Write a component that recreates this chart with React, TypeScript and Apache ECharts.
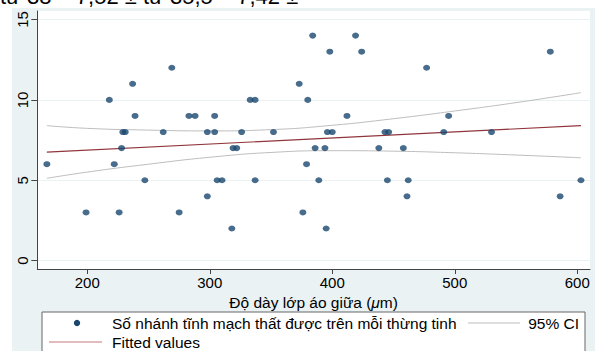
import React, { useEffect, useRef } from "react";
import * as echarts from "echarts";

// Scatter: mid-layer thickness (µm) vs number of veins per cord
const thicknessX = [
  167, 199, 218, 222, 226, 228, 229, 231, 237, 239, 247, 262, 269, 275, 283, 288,
  298, 298, 304, 304, 306, 310, 318, 319, 322, 326, 333, 337, 337, 352, 373, 376,
  379, 380, 384, 386, 389, 394, 395, 396, 398, 400, 412, 419, 424, 438, 443, 446,
  445, 458, 461, 462, 477, 491, 495, 530, 578, 586, 603,
];
const veinsY = [
  6, 3, 10, 6, 3, 7, 8, 8, 11, 9, 5, 8, 12, 3, 9, 9,
  4, 8, 8, 9, 5, 5, 2, 7, 7, 8, 10, 10, 5, 8, 11, 3,
  6, 10, 14, 7, 5, 7, 2, 8, 13, 8, 9, 14, 13, 7, 8, 8,
  5, 7, 4, 5, 12, 8, 9, 8, 13, 4, 5,
];

// Fitted line endpoints
const fitX = [167, 603];
const fitY = [6.75, 8.4];

// 95% CI band
const ciX = [167, 200, 250, 300, 350, 400, 450, 500, 550, 603];
const ciUpper = [8.4, 8.23, 8.12, 8.07, 8.15, 8.42, 8.83, 9.31, 9.83, 10.45];
const ciLower = [5.12, 5.51, 6.0, 6.43, 6.73, 6.84, 6.81, 6.71, 6.57, 6.4];

const xTicks = [200, 300, 400, 500, 600];
const yTicks = [0, 5, 10, 15];

const legendScatter = "Số nhánh tĩnh mạch thất được trên mỗi thừng tinh";
const legendCI = "95% CI";
const legendFit = "Fitted values";
const topText = "từ 38 – 7,52 ± từ 35,5 – 7,42 ±";

const FONT = "'Liberation Sans', Arial, sans-serif";

export default function App() {
  const ref = useRef<HTMLDivElement>(null);

  useEffect(() => {
    if (!ref.current) return;
    const chart = echarts.init(ref.current, undefined, { renderer: "svg" });
    const zip = (a: number[], b: number[]) => a.map((v, i) => [v, b[i]]);

    chart.setOption({
      animation: false,
      textStyle: { fontFamily: FONT },
      grid: {
        left: 37.3,
        right: 5,
        top: 11,
        bottom: 82,
        show: true,
        backgroundColor: "#ffffff",
        borderWidth: 0,
      },
      xAxis: {
        type: "value",
        min: 159.2,
        max: 610.4,
        name: "Độ dày lớp áo giữa ({i|μ}m)",
        nameLocation: "middle",
        nameGap: 21,
        nameTextStyle: {
          fontSize: 15.5,
          color: "#000",
          fontFamily: FONT,
          rich: { i: { fontStyle: "italic", fontSize: 15.5, fontFamily: FONT, color: "#000" } },
        },
        axisLine: { show: true, onZero: false, lineStyle: { color: "#444", width: 1 } },
        axisTick: { show: true, length: 5, customValues: xTicks, lineStyle: { color: "#444" } },
        axisLabel: { customValues: xTicks, fontSize: 15, color: "#000", margin: 6, fontFamily: FONT },
        splitLine: { show: false },
      },
      yAxis: {
        type: "value",
        min: -0.52,
        max: 15.53,
        axisLine: { show: true, onZero: false, lineStyle: { color: "#444", width: 1 } },
        axisTick: { show: true, length: 6, customValues: yTicks, lineStyle: { color: "#444" } },
        axisLabel: { customValues: yTicks, fontSize: 15, color: "#000", rotate: 90, margin: 7, fontFamily: FONT },
        splitLine: { show: true, lineStyle: { color: "#eaf2f3", width: 1 } },
      },
      series: [
        {
          type: "line",
          data: zip(ciX, ciUpper),
          smooth: true,
          symbol: "none",
          lineStyle: { color: "#bdbdbd", width: 1 },
          z: 2,
        },
        {
          type: "line",
          data: zip(ciX, ciLower),
          smooth: true,
          symbol: "none",
          lineStyle: { color: "#bdbdbd", width: 1 },
          z: 2,
        },
        {
          type: "line",
          data: zip(fitX, fitY),
          symbol: "none",
          lineStyle: { color: "#90353b", width: 1.2 },
          z: 3,
        },
        {
          type: "scatter",
          data: zip(thicknessX, veinsY),
          symbol: "circle",
          symbolSize: [7, 6],
          itemStyle: { color: "#1a476f" },
          z: 4,
        },
      ],
      graphic: [
        {
          type: "text",
          left: 0,
          top: -15,
          style: { text: topText, fontSize: 22, fontFamily: FONT, fill: "#000" },
        },
        {
          type: "rect",
          shape: { x: 42, y: 312, width: 543, height: 60 },
          style: { fill: "#ffffff", stroke: "#666", lineWidth: 1 },
        },
        {
          type: "circle",
          shape: { cx: 77, cy: 323, r: 3.2 },
          style: { fill: "#1a476f" },
        },
        {
          type: "text",
          x: 112,
          y: 323,
          style: { text: legendScatter, fontSize: 15.5, fontFamily: FONT, fill: "#000", verticalAlign: "middle" },
        },
        {
          type: "line",
          shape: { x1: 468, y1: 323, x2: 520, y2: 323 },
          style: { stroke: "#bdbdbd", lineWidth: 1 },
        },
        {
          type: "text",
          x: 579,
          y: 323,
          style: { text: legendCI, fontSize: 15.5, fontFamily: FONT, fill: "#000", align: "right", verticalAlign: "middle" },
        },
        {
          type: "line",
          shape: { x1: 49, y1: 342, x2: 102, y2: 342 },
          style: { stroke: "#c4797e", lineWidth: 1.2 },
        },
        {
          type: "text",
          x: 112,
          y: 342,
          style: { text: legendFit, fontSize: 15.5, fontFamily: FONT, fill: "#000", verticalAlign: "middle" },
        },
      ],
    });
    return () => chart.dispose();
  }, []);

  return (
    <div style={{ position: "fixed", left: 0, top: 0, width: 595, height: 351, background: "#ffffff", overflow: "hidden" }}>
      <div style={{ position: "absolute", left: 12, top: 8, width: 583, height: 343, background: "#eaf2f3" }} />
      <div ref={ref} style={{ position: "absolute", left: 0, top: 0, width: 595, height: 351 }} />
    </div>
  );
}
